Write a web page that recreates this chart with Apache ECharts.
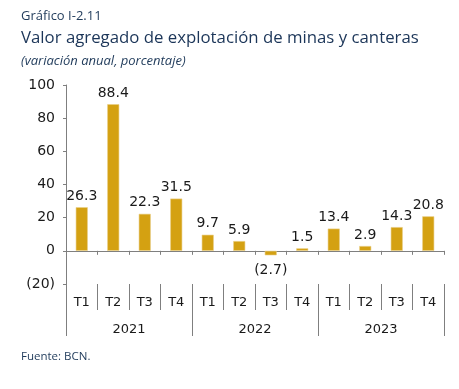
<!DOCTYPE html>
<html><head><meta charset="utf-8">
<script src="https://cdn.jsdelivr.net/npm/echarts@6/dist/echarts.min.js"></script>
<style>html,body{margin:0;padding:0;background:#fff}#c{width:459px;height:389px}</style>
</head><body><div id="c"></div>
<script>
var quarters = ['T1','T2','T3','T4','T1','T2','T3','T4','T1','T2','T3','T4'];
var years = ['2021','2022','2023'];
var values = [26.3, 88.4, 22.3, 31.5, 9.7, 5.9, -2.7, 1.5, 13.4, 2.9, 14.3, 20.8];
var yTicks = {min: -20, max: 100, interval: 20};

var fmt = function (v) { return v < 0 ? '(' + Math.abs(v) + ')' : String(v); };
var chart = echarts.init(document.getElementById('c'), null, {renderer: 'canvas'});
var axisColor = '#7f7f7f';
var txt = '#1a1a1a';
var font = 'DejaVu Sans';
var option = {
  animation: false,
  textStyle: {fontFamily: font},
  title: [
    {text: 'Gráfico I-2.11', left: 16, top: 5, textStyle: {fontFamily: 'Open Sans', fontSize: 13, fontWeight: 'normal', color: '#1f3a5a'}},
    {text: 'Valor agregado de explotación de minas y canteras', left: 16, top: 25, textStyle: {fontFamily: 'Open Sans', fontSize: 16.8, fontWeight: 500, color: '#1b3558'}},
    {text: '(variación anual, porcentaje)', left: 16, top: 50, textStyle: {fontFamily: 'Open Sans', fontSize: 13, fontStyle: 'italic', fontWeight: 'normal', color: '#1f3a5a'}},
    {text: 'Fuente: BCN.', left: 16, top: 346, textStyle: {fontFamily: 'Open Sans', fontSize: 11.5, fontWeight: 'normal', color: '#1f3a5a'}}
  ],
  grid: {left: 66, right: 15, top: 85, bottom: 105, containLabel: false},
  yAxis: {
    type: 'value', min: yTicks.min, max: yTicks.max, interval: yTicks.interval,
    axisLine: {show: true, lineStyle: {color: axisColor}},
    axisTick: {show: true, length: 3, lineStyle: {color: axisColor}},
    splitLine: {show: false},
    axisLabel: {formatter: fmt, color: txt, fontSize: 14, margin: 11, fontFamily: font}
  },
  xAxis: [
    {type: 'category', data: quarters, gridIndex: 0,
     axisLine: {onZero: true, lineStyle: {color: axisColor}},
     axisTick: {show: true, length: 4, interval: 0, lineStyle: {color: axisColor}},
     axisLabel: {show: false}},
    {type: 'category', data: quarters, position: 'bottom',
     axisLine: {onZero: false, show: false},
     axisTick: {show: true, length: 26, interval: 0, lineStyle: {color: axisColor}},
     axisLabel: {show: true, interval: 0, color: txt, fontSize: 13, margin: 12, fontFamily: font}},
    {type: 'category', data: years, position: 'bottom', offset: 26,
     axisLine: {onZero: false, show: false},
     axisTick: {show: true, length: 26, interval: 0, lineStyle: {color: axisColor}},
     axisLabel: {show: true, interval: 0, color: txt, fontSize: 13, margin: 13, fontFamily: font}}
  ],
  series: [{
    type: 'bar', xAxisIndex: 0, barWidth: 12,
    itemStyle: {color: '#d4a112', borderColor: '#e9cf86', borderWidth: 0.6},
    data: values.map(function (v) {
      return v < 0 ? {value: v, label: {position: 'bottom', distance: 8}} : v;
    }),
    label: {show: true, position: 'top', distance: 4, formatter: function (p) { return fmt(p.value); },
            color: txt, fontSize: 14, fontFamily: font}
  }]
};
chart.setOption(option);
</script></body></html>
